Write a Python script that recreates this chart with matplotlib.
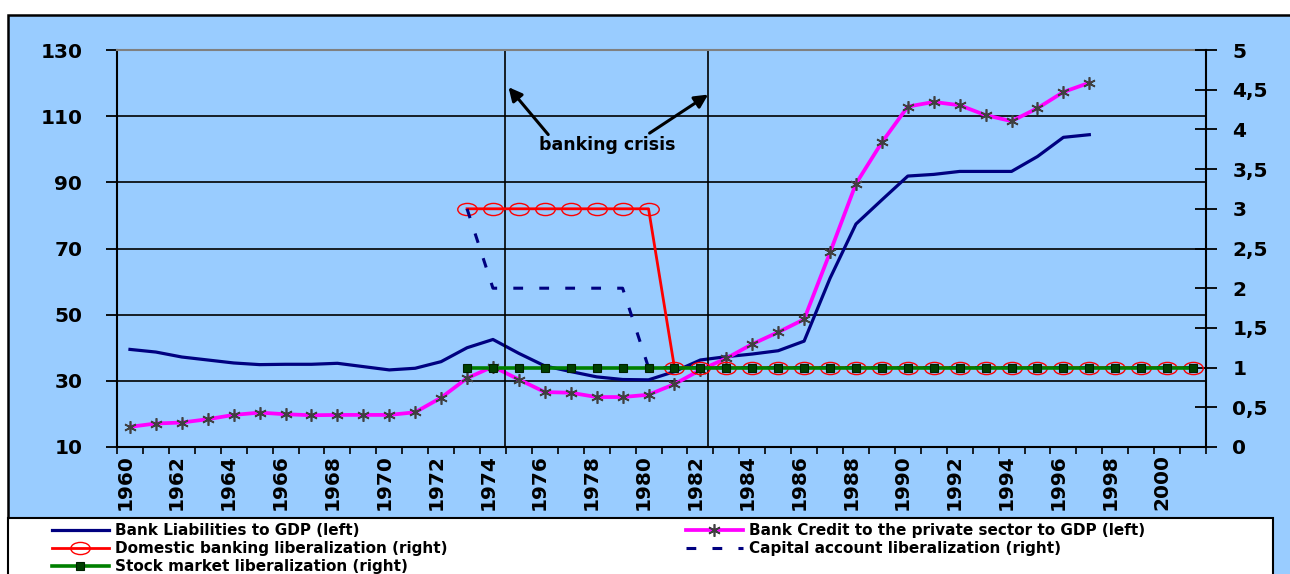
"""Bank liabilities / private credit vs. liberalization dates, with banking crisis markers."""
import numpy as np
import matplotlib
matplotlib.use("Agg")
import matplotlib.pyplot as plt
from matplotlib.path import Path
from matplotlib.patches import Rectangle

W, H = 1290, 574

YEARS = list(range(1960, 2002))

# left axis series (% of GDP), 1960-1997
RATIO_YEARS = list(range(1960, 1998))
LIABILITIES = [39.5, 38.7, 37.2, 36.3, 35.4, 34.9, 35.0, 35.0, 35.3, 34.3,
               33.3, 33.8, 35.8, 40.0, 42.5, 38.3, 34.5, 32.8, 31.2, 30.4,
               30.3, 32.8, 36.3, 37.3, 38.1, 39.1, 42.0, 61.0, 77.4, 84.7,
               91.9, 92.4, 93.3, 93.3, 93.3, 97.8, 103.6, 104.4]
CREDIT = [16.1, 17.1, 17.4, 18.4, 19.7, 20.4, 19.9, 19.6, 19.7, 19.7,
          19.7, 20.5, 24.9, 30.8, 34.3, 30.4, 26.6, 26.4, 25.1, 25.1,
          25.8, 29.0, 33.3, 36.8, 41.1, 44.7, 48.6, 68.8, 89.6, 102.1,
          112.9, 114.3, 113.3, 110.3, 108.5, 112.4, 117.3, 120.1]

# right axis indices, 1973-2001
LIB_YEARS = list(range(1973, 2002))
DOMESTIC = [3, 3, 3, 3, 3, 3, 3, 3, 1, 1, 1, 1, 1, 1, 1, 1, 1, 1, 1, 1,
            1, 1, 1, 1, 1, 1, 1, 1, 1]
CAPITAL = [3, 2, 2, 2, 2, 2, 2, 1, 1, 1, 1, 1, 1, 1, 1, 1, 1, 1, 1, 1,
           1, 1, 1, 1, 1, 1, 1, 1, 1]
STOCK = [1, 1, 1, 1, 1, 1, 1, 1, 1, 1, 1, 1, 1, 1, 1, 1, 1, 1, 1, 1,
         1, 1, 1, 1, 1, 1, 1, 1, 1]

LEFT_TICKS = [10, 30, 50, 70, 90, 110, 130]
RIGHT_TICKS = [0, 0.5, 1, 1.5, 2, 2.5, 3, 3.5, 4, 4.5, 5]
RIGHT_LABELS = ["0", "0,5", "1", "1,5", "2", "2,5", "3", "3,5", "4", "4,5", "5"]
CRISIS = [1974.45, 1982.3]

BG = "#99CCFF"
NAVY = "#000080"

plt.rcParams["font.family"] = ["DejaVu Sans"]
plt.rcParams["font.weight"] = "bold"


def idx(years):
    return np.array(years) - YEARS[0]


def main():
    fig = plt.figure(figsize=(W / 100, H / 100), dpi=100)
    fig.patch.set_facecolor("white")
    fig.add_artist(Rectangle((8 / W, -0.1), 1.2, 1 - 15 / H + 0.1,
                             transform=fig.transFigure, facecolor=BG,
                             edgecolor="black", lw=1.8, zorder=-1))
    fig.add_artist(Rectangle((8 / W, -0.1), (1273 - 8) / W, (H - 518) / H + 0.1,
                             transform=fig.transFigure, facecolor="white",
                             edgecolor="black", lw=1.5, zorder=1))

    ax = fig.add_axes([117 / W, 1 - 447 / H, (1206 - 117) / W, (447 - 50) / H])
    ax.set_facecolor("none")
    ax2 = ax.twinx()
    ax2.set_facecolor("none")

    # left axis
    ax.set_xlim(-0.5, len(YEARS) - 0.5)
    ax.set_ylim(10, 130)
    ax.set_yticks(LEFT_TICKS)
    ax.set_yticklabels([str(v) for v in LEFT_TICKS], fontsize=14.5)
    ax.tick_params(axis="y", direction="out", length=8, width=1.3, pad=17)
    ax.yaxis.grid(True, color="black", lw=1.2)
    ax.set_axisbelow(True)
    for s in ("left", "bottom"):
        ax.spines[s].set_linewidth(1.5)
    ax.spines["top"].set_color("#808080")
    ax.spines["top"].set_linewidth(1.5)
    ax.spines["right"].set_visible(False)

    # category axis: ticks between years, labels every other year
    ax.set_xticks(np.arange(-0.5, len(YEARS), 1.0))
    ax.set_xticklabels([])
    ax.tick_params(axis="x", which="major", direction="out", length=5, width=1.2)
    lab_years = YEARS[:41:2]
    ax.set_xticks(idx(lab_years) - 0.2, minor=True)
    ax.set_xticklabels([str(y) for y in lab_years], minor=True,
                       rotation=90, fontsize=14.5, va="top")
    ax.tick_params(axis="x", which="minor", length=0, pad=5)

    # right axis
    ax2.set_ylim(0, 5)
    ax2.set_yticks(RIGHT_TICKS)
    ax2.set_yticklabels(RIGHT_LABELS, fontsize=14.5)
    ax2.tick_params(axis="y", direction="inout", length=16, width=1.3, pad=11)
    for s in ("top", "left", "bottom"):
        ax2.spines[s].set_visible(False)
    ax2.spines["right"].set_linewidth(1.5)

    # series
    l_liab, = ax.plot(idx(RATIO_YEARS), LIABILITIES, color=NAVY, lw=2.3,
                      label="Bank Liabilities to GDP (left)")
    l_credit, = ax.plot(idx(RATIO_YEARS), CREDIT, color="#FF00FF", lw=2.7,
                        marker=(6, 2, 0), ms=9, mec="#404040", mew=1.2,
                        label="Bank Credit to the private sector to GDP (left)")

    circ = Path.unit_circle()
    oval = Path(circ.vertices * np.array([1.6, 1.0]), circ.codes)
    l_dom, = ax2.plot(idx(LIB_YEARS), DOMESTIC, color="red", lw=2.0,
                      marker=oval, ms=14, mfc="none", mec="red", mew=1.0,
                      label="Domestic banking liberalization (right)")
    l_cap, = ax2.plot(idx(LIB_YEARS), CAPITAL, color=NAVY, lw=2.2,
                      linestyle=(0, (3.2, 5.3)),
                      label="Capital account liberalization (right)")
    l_stock, = ax2.plot(idx(LIB_YEARS), STOCK, color="#008000", lw=2.6,
                        marker="s", ms=6, mfc="#004000", mec="#002000", mew=0.8,
                        label="Stock market liberalization (right)")

    # banking crisis markers
    for c in CRISIS:
        ax.axvline(c - YEARS[0], color="black", lw=1.2)
    ax.text(18.4, 101.3, "banking crisis", fontsize=12.5, ha="center", va="center")
    arrow = dict(arrowstyle="-|>", color="black", lw=2.2, mutation_scale=20)
    ax.annotate("", xy=(14.53, 119.4), xytext=(16.2, 103.8), arrowprops=arrow)
    ax.annotate("", xy=(22.39, 117.0), xytext=(19.95, 104.4), arrowprops=arrow)

    leg_kw = dict(loc="upper left", frameon=False, fontsize=11, handlelength=3.7,
                  handletextpad=0.45, labelspacing=0.2, borderpad=0,
                  borderaxespad=0)
    fig.legend(handles=[l_liab, l_dom, l_stock],
               bbox_to_anchor=(52 / W, 1 - 523 / H), **leg_kw)
    fig.legend(handles=[l_credit, l_cap],
               bbox_to_anchor=(686 / W, 1 - 523 / H), **leg_kw)

    fig.savefig("out.png", dpi=100)


if __name__ == "__main__":
    main()
